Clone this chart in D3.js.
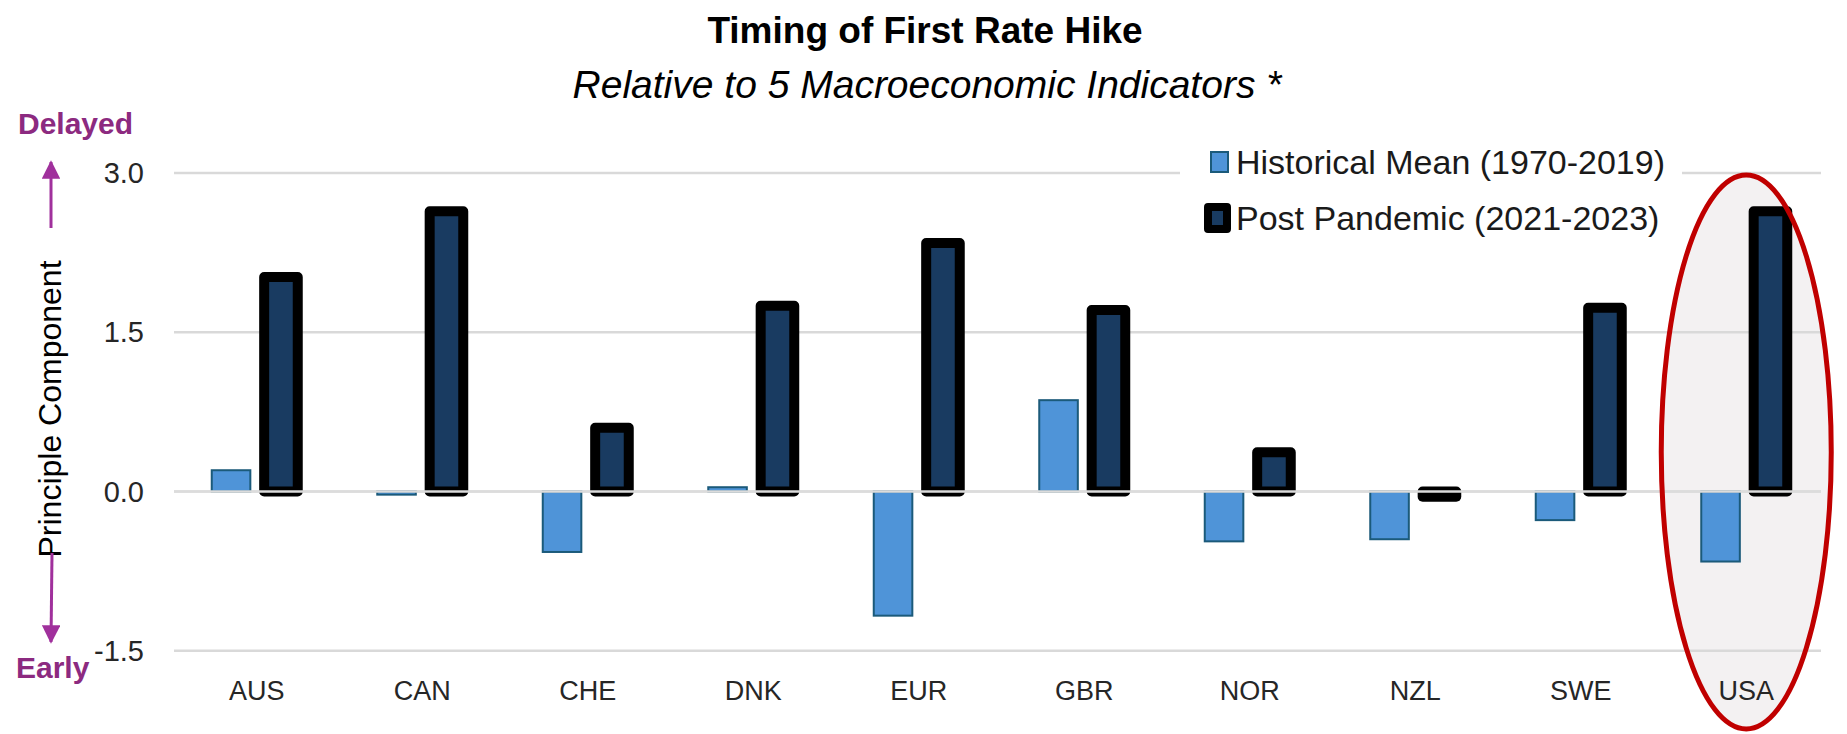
<!DOCTYPE html>
<html>
<head>
<meta charset="utf-8">
<script src="https://cdn.jsdelivr.net/npm/d3@7"></script>
<style>
  body { margin: 0; background: #fff; }
  svg { display: block; }
</style>
</head>
<body>
<svg id="chart"></svg>
<script>
/**
 * Chart data
 */
var countries = ["AUS", "CAN", "CHE", "DNK", "EUR", "GBR", "NOR", "NZL", "SWE", "USA"];
var historicalMean = [0.20, -0.03, -0.57, 0.04, -1.17, 0.86, -0.47, -0.45, -0.27, -0.66];
var postPandemic = [2.02, 2.64, 0.60, 1.75, 2.34, 1.71, 0.37, -0.05, 1.73, 2.64];
var seriesNames = ["Historical Mean (1970-2019)", "Post Pandemic (2021-2023)"];
var yTicks = [-1.5, 0.0, 1.5, 3.0];

var w = 1847;
var h = 734;
var margin = { top: 173, right: 18, bottom: 84, left: 174 };
var narrow = "'Liberation Sans Narrow', 'Liberation Sans', Arial, sans-serif";
var purple = "#a0309c";
var purpleText = "#8c2a80";

var svg = d3.select("#chart").attr("width", w).attr("height", h);

// scales
var x0 = d3.scaleBand()
    .domain(countries)
    .range([margin.left, w - margin.right]);

var x1 = d3.scaleBand()
    .domain([0, 1])
    .range([-46, 46])
    .paddingInner(0.1);

var y = d3.scaleLinear()
    .domain([-1.5, 3.0])
    .range([h - margin.bottom + 0.7, margin.top]);

var center = function(c) { return x0(c) + x0.bandwidth() / 2; };

// highlight ellipse behind the USA group
svg.append("ellipse")
    .attr("cx", center("USA"))
    .attr("cy", 452)
    .attr("rx", 85)
    .attr("ry", 277)
    .attr("fill", "#f3f1f2");

// gridlines
svg.append("g").selectAll("line")
    .data(yTicks)
    .enter().append("line")
    .attr("x1", margin.left)
    .attr("x2", w - margin.right - 8)
    .attr("y1", function(d) { return y(d); })
    .attr("y2", function(d) { return y(d); })
    .attr("stroke", "#d9d9d9")
    .attr("stroke-width", 2.5);

// tick labels
svg.append("g").selectAll("text")
    .data(yTicks)
    .enter().append("text")
    .attr("x", 144)
    .attr("y", function(d) { return y(d); })
    .attr("dy", "0.35em")
    .attr("text-anchor", "end")
    .attr("font-family", narrow)
    .attr("font-size", 29)
    .attr("fill", "#262626")
    .text(function(d) { return d3.format(".1f")(d).replace("\u2212", "-"); });

// historical bars
svg.append("g").selectAll("rect")
    .data(countries)
    .enter().append("rect")
    .attr("x", function(d) { return center(d) + x1(0) + 1; })
    .attr("width", x1.bandwidth() - 5)
    .attr("y", function(d, i) { return y(Math.max(0, historicalMean[i])); })
    .attr("height", function(d, i) { return Math.max(1.5, Math.abs(y(historicalMean[i]) - y(0))); })
    .attr("fill", "#4f94d8")
    .attr("stroke", "#1b5a7a")
    .attr("stroke-width", 2);

// post pandemic bars
var sw = 10;
svg.append("g").selectAll("rect")
    .data(countries)
    .enter().append("rect")
    .attr("x", function(d) { return center(d) + x1(1) + sw / 2; })
    .attr("width", x1.bandwidth() - sw)
    .attr("y", function(d, i) { return y(Math.max(0, postPandemic[i])); })
    .attr("height", function(d, i) { return Math.abs(y(postPandemic[i]) - y(0)); })
    .attr("fill", "#193b61")
    .attr("stroke", "#000")
    .attr("stroke-width", sw)
    .attr("stroke-linejoin", "round");

// zero line drawn over the bars
svg.append("line")
    .attr("x1", margin.left)
    .attr("x2", w - margin.right - 8)
    .attr("y1", y(0))
    .attr("y2", y(0))
    .attr("stroke", "#dcdcdc")
    .attr("stroke-width", 2.5);

// ellipse outline
svg.append("ellipse")
    .attr("cx", center("USA"))
    .attr("cy", 452)
    .attr("rx", 85)
    .attr("ry", 277)
    .attr("fill", "none")
    .attr("stroke", "#c00000")
    .attr("stroke-width", 5);

// category labels
svg.append("g").selectAll("text")
    .data(countries)
    .enter().append("text")
    .attr("x", function(d) { return center(d); })
    .attr("y", 700)
    .attr("text-anchor", "middle")
    .attr("font-family", narrow)
    .attr("font-size", 27)
    .attr("fill", "#262626")
    .text(function(d) { return d; });

// titles
svg.append("text")
    .attr("x", 925).attr("y", 43)
    .attr("text-anchor", "middle")
    .attr("font-family", narrow)
    .attr("font-weight", "bold")
    .attr("font-size", 37)
    .attr("fill", "#000")
    .text("Timing of First Rate Hike");

svg.append("text")
    .attr("x", 927).attr("y", 98)
    .attr("text-anchor", "middle")
    .attr("font-family", narrow)
    .attr("font-style", "italic")
    .attr("font-size", 39)
    .attr("fill", "#000")
    .text("Relative to 5 Macroeconomic Indicators *");

// y axis title
svg.append("text")
    .attr("transform", "translate(61,409)rotate(-90)")
    .attr("text-anchor", "middle")
    .attr("font-family", "'Liberation Sans', Arial, sans-serif")
    .attr("font-size", 32)
    .attr("fill", "#000")
    .text("Principle Component");

// direction arrows
var defs = svg.append("defs");
defs.append("marker")
    .attr("id", "head")
    .attr("viewBox", "0 0 10 10")
    .attr("refX", 9).attr("refY", 5)
    .attr("markerWidth", 6.2).attr("markerHeight", 6.2)
    .attr("orient", "auto")
    .append("path")
    .attr("d", "M0,0 L10,5 L0,10 Z")
    .attr("fill", purple);

svg.append("line")
    .attr("x1", 51).attr("y1", 228)
    .attr("x2", 51).attr("y2", 162)
    .attr("stroke", purple).attr("stroke-width", 3)
    .attr("marker-end", "url(#head)");

svg.append("line")
    .attr("x1", 52).attr("y1", 553)
    .attr("x2", 51).attr("y2", 642)
    .attr("stroke", purple).attr("stroke-width", 3)
    .attr("marker-end", "url(#head)");

svg.append("text")
    .attr("x", 18).attr("y", 134)
    .attr("font-family", narrow)
    .attr("font-weight", "bold")
    .attr("font-size", 30)
    .attr("fill", purpleText)
    .text("Delayed");

svg.append("text")
    .attr("x", 16).attr("y", 678)
    .attr("font-family", narrow)
    .attr("font-weight", "bold")
    .attr("font-size", 30)
    .attr("fill", purpleText)
    .text("Early");

// legend
var legend = svg.append("g");
legend.append("rect")
    .attr("x", 1180).attr("y", 140)
    .attr("width", 502).attr("height", 105)
    .attr("fill", "#fff");

legend.append("rect")
    .attr("x", 1211).attr("y", 152)
    .attr("width", 17).attr("height", 20)
    .attr("fill", "#4f94d8")
    .attr("stroke", "#1b5a7a")
    .attr("stroke-width", 2);

legend.append("rect")
    .attr("x", 1208).attr("y", 207)
    .attr("width", 19).attr("height", 22)
    .attr("fill", "#193b61")
    .attr("stroke", "#000")
    .attr("stroke-width", 8)
    .attr("stroke-linejoin", "round");

legend.selectAll("text.item")
    .data(seriesNames)
    .enter().append("text")
    .attr("class", "item")
    .attr("x", 1236)
    .attr("y", function(d, i) { return 162 + i * 56; })
    .attr("dy", "0.36em")
    .attr("font-family", narrow)
    .attr("font-size", 34)
    .attr("fill", "#1a1a1a")
    .text(function(d) { return d; });
</script>
</body>
</html>
